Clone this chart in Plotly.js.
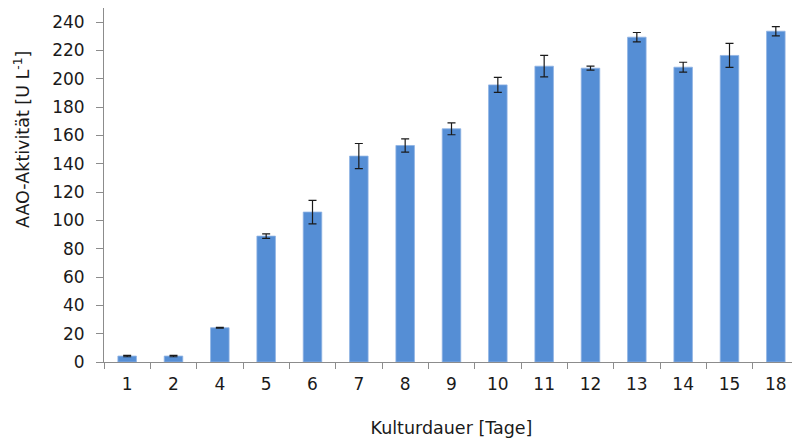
<!DOCTYPE html>
<html>
<head>
<meta charset="utf-8">
<script src="https://cdn.plot.ly/plotly-3.0.1.min.js"></script>
<style>
html,body{margin:0;padding:0;overflow:hidden;background:#fff;}
#chart{width:800px;height:440px;}
</style>
</head>
<body>
<div id="chart"></div>
<script>
const categories = ["1","2","4","5","6","7","8","9","10","11","12","13","14","15","18"];
const activity = [4.2, 4.2, 24.2, 88.9, 105.9, 145.4, 152.9, 164.7, 195.7, 208.9, 207.5, 229.4, 208.2, 216.5, 233.6];
const errors = [0.5, 0.5, 0.3, 1.6, 8.3, 8.9, 4.7, 4.2, 5.3, 7.6, 1.4, 3.3, 3.5, 8.5, 3.3];
const yTicks = [0,20,40,60,80,100,120,140,160,180,200,220,240];
const xTitle = 'Kulturdauer [Tage]';
const yTitle = 'AAO-Aktivität [U L<sup>-1</sup>]';

const trace = {
  type: 'bar',
  x: categories,
  y: activity,
  marker: {color: '#558ed5', line: {color: '#8fb3e3', width: 0.8}},
  error_y: {type: 'data', array: errors, visible: true, color: '#1a1a1a', thickness: 1.2, width: 4},
  hoverinfo: 'x+y'
};

const fam = '"DejaVu Sans", "Liberation Sans", Arial, sans-serif';
const tickFont = {family: fam, size: 17, color: '#1a1a1a'};
const titleFont = {family: fam, size: 17.5, color: '#1a1a1a'};

const layout = {
  width: 800,
  height: 440,
  margin: {l: 104, r: 1, t: 8, b: 78},
  paper_bgcolor: '#fff',
  plot_bgcolor: '#fff',
  bargap: 0.6,
  showlegend: false,
  font: tickFont,
  xaxis: {
    type: 'category',
    tickson: 'boundaries',
    ticks: 'outside',
    ticklen: 6,
    tickcolor: '#8c8c8c',
    showline: true,
    linecolor: '#8c8c8c',
    linewidth: 1,
    showgrid: false,
    tickfont: tickFont,
    ticklabelstandoff: 7,
    title: {text: xTitle, font: titleFont, standoff: 28}
  },
  yaxis: {
    range: [0, 250],
    tickvals: yTicks,
    ticktext: yTicks.map(String),
    ticks: 'outside',
    ticklen: 7,
    tickcolor: '#8c8c8c',
    showline: true,
    linecolor: '#8c8c8c',
    linewidth: 1,
    showgrid: false,
    zeroline: false,
    tickfont: tickFont,
    ticklabelstandoff: 8
  },
  annotations: [{
    text: yTitle,
    xref: 'paper', yref: 'paper',
    x: 0, y: 0.627,
    xanchor: 'center', yanchor: 'middle',
    xshift: -82,
    textangle: -90,
    showarrow: false,
    font: titleFont
  }]
};

Plotly.newPlot('chart', [trace], layout, {displayModeBar: false, staticPlot: true});
</script>
</body>
</html>
